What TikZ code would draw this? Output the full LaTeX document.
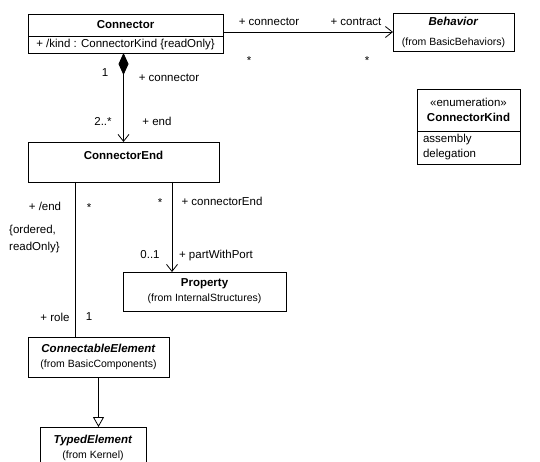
\documentclass[tikz,border=0pt]{standalone}
\usepackage{fontspec}
\setmainfont{Liberation Sans}
\usetikzlibrary{arrows.meta,positioning}
\newcommand{\pkgfont}{\fontsize{10.5}{13}\selectfont}

\begin{document}
\begin{tikzpicture}[x=1pt, y=-1pt, font=\fontsize{11.5}{15}\selectfont,
    cls/.style={draw, line width=0.8pt, inner sep=2pt, outer sep=0pt, align=center},
    lbl/.style={inner sep=0pt, anchor=base},
    link/.style={line width=0.8pt},
    assoc/.style={link, -{Straight Barb[length=7pt, width=11pt]}}]
    \useasboundingbox (0,0) rectangle (540,462);
    % classes
    \node[cls, minimum width=195pt, minimum height=22pt] (conn) at (125.5,25) {\textbf{Connector}};
    \node[cls, minimum width=195pt, minimum height=17pt, below=0pt of conn] (connattr) {+ /kind : ConnectorKind \{readOnly\}};
    \node[cls, minimum width=121pt, minimum height=38pt] (behav) at (453.5,32) {\textbf{\textit{Behavior}}\\[5pt]\pkgfont(from BasicBehaviors)};
    \node[cls, minimum width=103pt, minimum height=42pt] (kind) at (468.5,110) {«enumeration»\\\textbf{ConnectorKind}};
    \node[cls, text width=91pt, inner xsep=6pt, minimum height=33pt, align=left, below=0pt of kind] (kindlit) {assembly\\delegation};
    \node[cls, minimum width=191pt, minimum height=40pt] (cend) at (123.5,162) {};
    \node[lbl] (cendname) at ([yshift=-17.5pt]cend.north) {\textbf{ConnectorEnd}};
    \node[cls, minimum width=163pt, minimum height=39pt] (prop) at (204.5,291.5) {\textbf{Property}\\\pkgfont(from InternalStructures)};
    \node[cls, minimum width=141pt, minimum height=40pt] (celem) at (98.5,357) {\textbf{\textit{ConnectableElement}}\\\pkgfont(from BasicComponents)};
    \node[cls, minimum width=106pt, minimum height=41pt] (typed) at (93,447.5) {\textbf{\textit{TypedElement}}\\\pkgfont(from Kernel)};
    % connectors
    \draw[assoc] (behav.west -| conn.east) -- (behav.west);
    \draw[link, {Diamond[length=22pt, width=10pt]}-{Straight Barb[length=7pt, width=11pt]}] (cend.north |- connattr.south) -- (cend.north);
    \coordinate (rolex) at (75,0);
    \draw[link] (rolex |- cend.south) -- (rolex |- celem.north);
    \coordinate (portx) at (172,0);
    \draw[assoc] (portx |- cend.south) -- (portx |- prop.north);
    \draw[link, -{Triangle[open, length=10pt, width=11pt]}] (celem.south) -- (celem.south |- typed.north);
    % role names and multiplicities
    \node[lbl] (l1) at (269,26) {+ connector};
    \node[lbl] (l2) at (356,26) {+ contract};
    \node[lbl] (m1) at (249,64.5) {*};
    \node[lbl] (m2) at (367,64.5) {*};
    \node[lbl] (m3) at (105,77) {1};
    \node[lbl] (l3) at (169,82) {+ connector};
    \node[lbl] (m4) at (103,126) {2..*};
    \node[lbl] (l4) at (157,126) {+ end};
    \node[lbl] (l5) at (45,211) {+ /end};
    \node[lbl] (m5) at (89,211.5) {*};
    \node[inner sep=0pt, anchor=west, align=left] (l6) at (9,239.5) {\{ordered,\\[2pt]readOnly\}};
    \node[lbl] (m6) at (160,206.5) {*};
    \node[lbl] (l7) at (222,206) {+ connectorEnd};
    \node[lbl] (m7) at (150,258) {0..1};
    \node[lbl] (l8) at (216,258) {+ partWithPort};
    \node[lbl] (l9) at (55,321) {+ role};
    \node[lbl] (m8) at (89,320) {1};
\end{tikzpicture}
\end{document}
